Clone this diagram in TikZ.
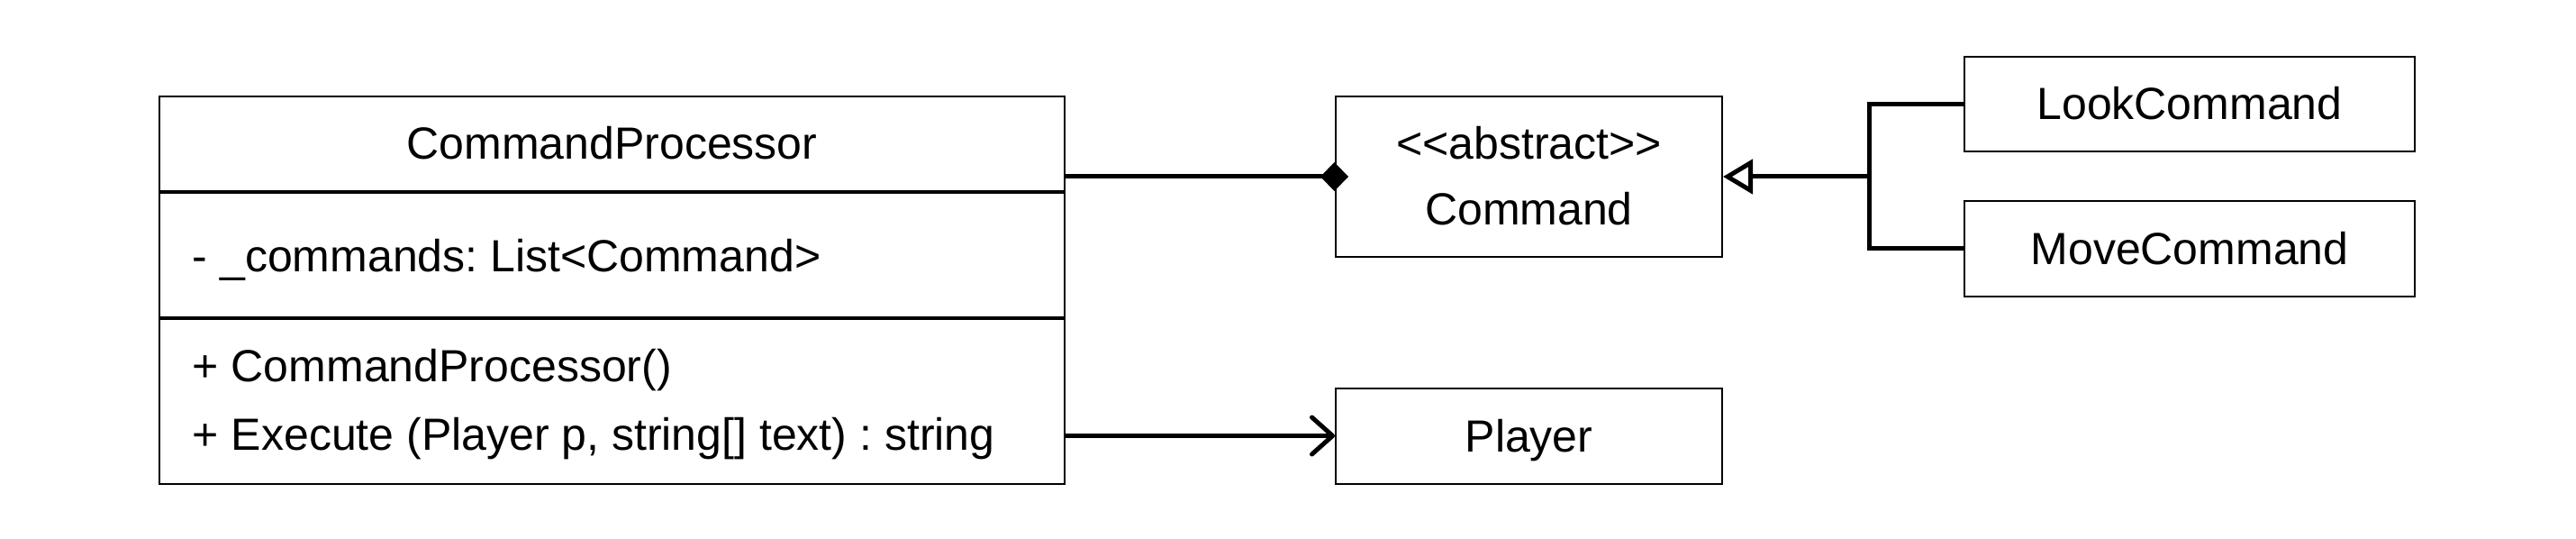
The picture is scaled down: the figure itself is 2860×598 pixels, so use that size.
\documentclass[tikz,border=0pt]{standalone}
\usepackage{fontspec}
\setmainfont{Liberation Sans}[Ligatures=TeXOff]
\usetikzlibrary{arrows.meta}
\begin{document}
\frenchspacing
\begin{tikzpicture}[x=0.25pt,y=-0.25pt,
  txt/.style={font=\fontsize{12.5}{15}\selectfont, inner sep=0pt},
  ctxt/.style={txt, anchor=base},
  ltxt/.style={txt, anchor=base west},
  box/.style={draw, line width=0.5pt, inner sep=0pt},
  divider/.style={line width=0.8pt},
  conn/.style={line width=1.25pt},
  comp/.style={conn, -{Diamond[length=7.75pt,width=8pt]}},
  gen/.style={conn, -{Triangle[open,length=8.25pt,width=9.5pt]}},
  assoc/.style={conn, -{Straight Barb[round,length=5.75pt,width=10.25pt]}}]
\useasboundingbox (0,0) rectangle (2860,598);
% CommandProcessor class
\node[box, minimum width=251.25pt, minimum height=107.5pt] (cp) at (679.5,322) {};
\coordinate (d1) at (177,213);
\coordinate (d2) at (177,353);
\draw[divider] (cp.west |- d1) -- (cp.east |- d1);
\draw[divider] (cp.west |- d2) -- (cp.east |- d2);
\node[ctxt] (cpname) at (679.5,177) {CommandProcessor};
\node[ltxt] (cpattr) at (213,301) {- \_commands: List<Command>};
\node[ltxt] (cpop1) at (213,424) {+ CommandProcessor()};
\node[ltxt] (cpop2) at (213,499) {+ Execute (Player p, string[] text) : string};
% other classes
\node[box, minimum width=107.25pt, minimum height=44.5pt] (cmd) at (1697.5,196) {};
\node[ctxt] (cmdst) at (1697.5,177) {<<abstract>>};
\node[ctxt] (cmdname) at (1697.5,250) {Command};
\node[box, minimum width=107.25pt, minimum height=26.5pt] (player) at (1697.5,483.5) {};
\node[ctxt] (playername) at (1697.5,501) {Player};
\node[box, minimum width=125pt, minimum height=26.25pt] (look) at (2431,115.5) {};
\node[ctxt] (lookname) at (2431,133) {LookCommand};
\node[box, minimum width=125pt, minimum height=26.5pt] (move) at (2431,276) {};
\node[ctxt] (movename) at (2431,293.5) {MoveCommand};
% connectors
\draw[comp] (cp.east |- cmd.west) -- ([xshift=3.75pt]cmd.west);
\coordinate (jn) at (2075,196);
\draw[conn] (look.west) -| (jn);
\draw[conn] (move.west) -| (jn);
\draw[gen] (jn) -- (cmd.east);
\draw[assoc] (cp.east |- player.west) -- (player.west);
\end{tikzpicture}
\end{document}
